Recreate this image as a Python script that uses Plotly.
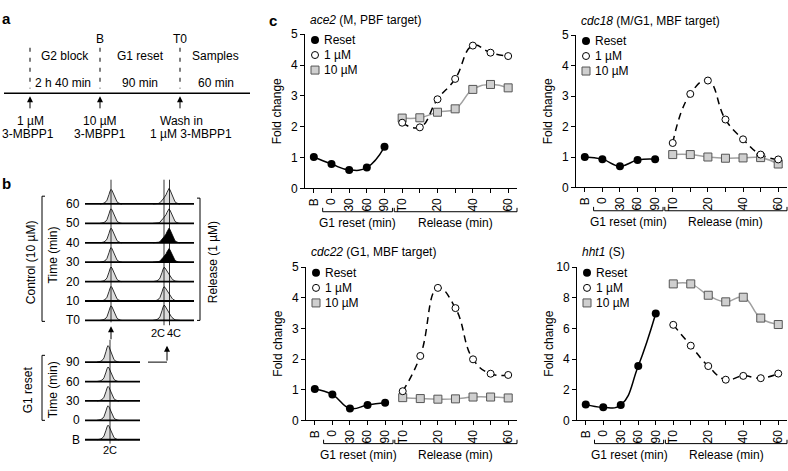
import numpy as np
import plotly.graph_objects as go

W, H = 788, 471
FONT = "Liberation Sans, Arial, Helvetica, sans-serif"

# ---------------- data (panel c) ----------------
X_CATEGORIES = ['B', '0', '30', '60', '90', 'T0', '10', '20', '30', '40', '50', '60']
X_TICKTEXT = ['B', '0', '30', '60', '90', 'T0', '', '20', '', '40', '', '60']
RESET_POS = [0, 1, 2, 3, 4]
RELEASE_POS = [5, 6, 7, 8, 9, 10, 11]

ACE2_RESET = [1.02, 0.79, 0.60, 0.68, 1.35]
ACE2_1UM = [2.13, 1.98, 2.89, 3.55, 4.63, 4.40, 4.29]
ACE2_10UM = [2.28, 2.29, 2.47, 2.58, 3.21, 3.37, 3.26]

CDC18_RESET = [1.00, 0.93, 0.70, 0.90, 0.93]
CDC18_1UM = [1.46, 3.07, 3.51, 2.23, 1.58, 1.08, 0.92]
CDC18_10UM = [1.08, 1.08, 1.00, 0.96, 0.97, 0.98, 0.77]

CDC22_RESET = [1.02, 0.84, 0.39, 0.50, 0.57]
CDC22_1UM = [0.95, 2.10, 4.32, 3.66, 1.99, 1.52, 1.48]
CDC22_10UM = [0.74, 0.71, 0.69, 0.70, 0.76, 0.76, 0.73]

HHT1_RESET = [1.04, 0.85, 1.00, 3.54, 6.97]
HHT1_1UM = [6.23, 4.87, 3.54, 2.65, 2.90, 2.75, 3.05]
HHT1_10UM = [8.90, 8.90, 8.16, 7.73, 8.03, 6.67, 6.25]

GENE_NAMES = ['ace2', 'cdc18', 'cdc22', 'hht1']
GENE_NOTES = ['(M, PBF target)', '(M/G1, MBF target)', '(G1, MBF target)', '(S)']
Y_MAX = [5, 5, 5, 10]
Y_DTICK = [1, 1, 1, 2]
LEGEND_LABELS = ['Reset', '1 µM', '10 µM']

# ---------------- data (panel b, flow cytometry) ----------------
CONTROL_TIMES = ['T0', '10', '20', '30', '40', '50', '60']
CONTROL_PEAK_H = [15, 15, 15, 15, 15, 15, 15]
RELEASE_2C_H = [15, 14, 14, 4, 4, 4, 4]
RELEASE_4C_H = [4, 4, 4, 13, 14, 14, 15]
RELEASE_DARK = [False, False, False, True, True, False, False]
G1_TIMES = ['B', '0', '30', '60', '90']
G1_PEAK_H = [15, 15, 15, 15, 17]
PROFILE_DX = list(range(-10, 11))
PROFILE_H = [0, 0.02, 0.04, 0.06, 0.1, 0.16, 0.26, 0.42, 0.65, 0.88, 1.0, 0.93, 0.76,
             0.55, 0.37, 0.24, 0.15, 0.09, 0.05, 0.02, 0]

fig = go.Figure()
layout = dict(width=W, height=H, autosize=False,
              margin=dict(l=0, r=0, t=0, b=0, pad=0),
              paper_bgcolor='white', plot_bgcolor='rgba(0,0,0,0)',
              showlegend=False, font=dict(family=FONT, size=12, color='black'))

# pixel geometry of the four charts: (x0, x1, ytop, ybottom)
GEOM = [(305, 517, 28, 187), (576, 787, 29, 186), (306, 517, 268, 426), (577, 787, 268, 426)]
SERIES = [(ACE2_RESET, ACE2_1UM, ACE2_10UM), (CDC18_RESET, CDC18_1UM, CDC18_10UM),
          (CDC22_RESET, CDC22_1UM, CDC22_10UM), (HHT1_RESET, HHT1_1UM, HHT1_10UM)]

annotations = []
shapes = []
OV = dict(xref='x5', yref='y5')


def txt(x, y, text, size=12, xanchor='center', yanchor='middle', angle=0, **kw):
    annotations.append(dict(x=x, y=y, text=text, showarrow=False, xanchor=xanchor,
                            yanchor=yanchor, textangle=angle,
                            font=dict(family=FONT, size=size, color='black'), **OV, **kw))


def line(x0, y0, x1, y1, width=1, color='black', dash=None):
    shapes.append(dict(type='line', x0=x0, y0=y0, x1=x1, y1=y1, **OV,
                       line=dict(color=color, width=width, dash=dash)))


def path(d, width=1):
    shapes.append(dict(type='path', path=d, **OV, line=dict(color='black', width=width)))


def arrow(x, yhead, xt, ytail):
    annotations.append(dict(x=x, y=yhead, ax=xt, ay=ytail, axref='x5', ayref='y5', **OV,
                            text='', showarrow=True, arrowhead=2, arrowsize=1.2,
                            arrowwidth=1, arrowcolor='black'))


for k in range(4):
    x0, x1, yt, yb = GEOM[k]
    sfx = '' if k == 0 else str(k + 1)
    xn, yn = 'x' + sfx, 'y' + sfx
    layout['xaxis' + sfx] = dict(domain=[x0 / W, x1 / W], range=[-0.5, 11.5], anchor=yn,
                                 tickmode='array', tickvals=list(range(12)), ticktext=X_TICKTEXT,
                                 tickangle=-90, ticks='outside', ticklen=4, tickcolor='black',
                                 showline=True, linecolor='black', linewidth=1, showgrid=False,
                                 zeroline=False, tickfont=dict(size=12), fixedrange=True)
    layout['yaxis' + sfx] = dict(domain=[1 - yb / H, 1 - yt / H], range=[0, Y_MAX[k]], anchor=xn,
                                 dtick=Y_DTICK[k], ticks='outside', ticklen=4, tickcolor='black',
                                 showline=True, linecolor='black', linewidth=1, showgrid=False,
                                 zeroline=False, tickfont=dict(size=12), fixedrange=True)
    reset, one, ten = SERIES[k]
    # fitted curves
    fig.add_trace(go.Scatter(x=RESET_POS, y=reset, mode='lines', xaxis=xn, yaxis=yn,
                             line=dict(color='black', width=1.5, shape='spline', smoothing=1.3)))
    fig.add_trace(go.Scatter(x=RELEASE_POS, y=ten, mode='lines', xaxis=xn, yaxis=yn,
                             line=dict(color='#a0a0a0', width=1.5, shape='spline', smoothing=1.3)))
    fig.add_trace(go.Scatter(x=RELEASE_POS, y=one, mode='lines', xaxis=xn, yaxis=yn,
                             line=dict(color='black', width=1.5, shape='spline', smoothing=1.3,
                                       dash='7px,5px')))
    # points
    fig.add_trace(go.Scatter(x=RESET_POS, y=reset, mode='markers', xaxis=xn, yaxis=yn,
                             name=LEGEND_LABELS[0], cliponaxis=False,
                             marker=dict(symbol='circle', size=8, color='black')))
    fig.add_trace(go.Scatter(x=RELEASE_POS, y=ten, mode='markers', xaxis=xn, yaxis=yn,
                             name=LEGEND_LABELS[2], cliponaxis=False,
                             marker=dict(symbol='square', size=8, color='#cfcfcf',
                                         line=dict(color='#555555', width=1))))
    fig.add_trace(go.Scatter(x=RELEASE_POS, y=one, mode='markers', xaxis=xn, yaxis=yn,
                             name=LEGEND_LABELS[1], cliponaxis=False,
                             marker=dict(symbol='circle', size=7, color='white',
                                         line=dict(color='black', width=1))))
    # title, y-title
    txt(x0 + 3, yt - 15, f'<i>{GENE_NAMES[k]}</i> {GENE_NOTES[k]}', xanchor='left')
    txt(x0 - 28, (yt + yb) / 2, 'Fold change', angle=-90)
    # brackets under the x axis
    step = (x1 - x0) / 12
    px = lambda i: x0 + (i + 0.5) * step
    by = yb + 24
    for a, b, lab in [(0.5, 4.45, 'G1 reset (min)'), (4.55, 11.5, 'Release (min)')]:
        path(f'M {px(a)},{by-4} L {px(a)},{by} L {px(b)},{by} L {px(b)},{by-4}')
        txt((px(a) + px(b)) / 2, by + 12, lab)
    # legend keys
    lx, ly = x0 + 10, yt + 6
    syms = [dict(symbol='circle', size=8, color='black'),
            dict(symbol='circle', size=7, color='white', line=dict(color='black', width=1)),
            dict(symbol='square', size=8, color='#cfcfcf', line=dict(color='#555555', width=1))]
    for j in range(3):
        fig.add_trace(go.Scatter(x=[lx], y=[ly + 15.5 * j], mode='markers', xaxis='x5', yaxis='y5',
                                 marker=syms[j], hoverinfo='skip'))
        txt(lx + 7, ly + 15.5 * j, LEGEND_LABELS[j], xanchor='left')

# overlay axis in pixel coordinates
layout['xaxis5'] = dict(domain=[0, 1], range=[0, W], visible=False, anchor='y5', fixedrange=True)
layout['yaxis5'] = dict(domain=[0, 1], range=[H, 0], visible=False, anchor='x5', fixedrange=True)

# ---------------- panel labels ----------------
txt(6, 12, '<b>a</b>', size=15)
txt(6, 182, '<b>b</b>', size=15)
txt(273, 14, '<b>c</b>', size=15)

# ---------------- panel a (schematic) ----------------
line(4, 89, 250, 89, width=1.5)
for xx in (30, 100, 180):
    line(xx, 42, xx, 84, dash='4px,6px')
    arrow(xx, 92, xx, 106)
txt(100, 33, 'B')
txt(180, 33, 'T0')
txt(65, 50, 'G2 block')
txt(140, 50, 'G1 reset')
txt(215, 50, 'Samples')
txt(63, 78, '2 h 40 min')
txt(140, 78, '90 min')
txt(216, 78, '60 min')
txt(30, 118, '1 µM')
txt(28, 131, '3-MBPP1')
txt(100, 118, '10 µM')
txt(100, 131, '3-MBPP1')
txt(181, 118, 'Wash in')
txt(191, 131, '1 µM 3-MBPP1')

# ---------------- panel b (histograms) ----------------
def prof(d):
    return PROFILE_H[d + 10] if -10 <= d <= 10 else 0.0


def peak(xs, ys, dark):
    fig.add_trace(go.Scatter(x=xs, y=ys, mode='lines', fill='toself', xaxis='x5', yaxis='y5',
                             fillcolor='black' if dark else '#dcdcdc',
                             line=dict(color='black', width=0.8), hoverinfo='skip'))


TOP_BASE = [323, 303, 283, 263, 243, 223, 203]
for r, lab in enumerate(CONTROL_TIMES):
    base = TOP_BASE[r]
    xs = list(range(100, 123))
    peak(xs, [base - CONTROL_PEAK_H[r] * prof(x - 111) for x in xs], False)
    xs = list(range(153, 181))
    peak(xs, [base - (RELEASE_2C_H[r] * prof(x - 164) + RELEASE_4C_H[r] * prof(x - 169)) for x in xs],
         RELEASE_DARK[r])
    line(85, base, 194, base, width=1.8)
    txt(82, base, lab, xanchor='right')

LOW_BASE = [446, 426, 406, 386, 366]
for r, lab in enumerate(G1_TIMES):
    base = LOW_BASE[r]
    xs = list(range(97, 120))
    peak(xs, [base - G1_PEAK_H[r] * prof(x - 108) for x in xs], False)
    line(85, base, 140, base, width=1.8)
    txt(82, base, lab, xanchor='right')

# guide lines for 2C/4C
line(111, 178, 111, 325, width=0.8)
line(164, 178, 164, 328, width=0.8)
line(169.5, 178, 169.5, 328, width=0.8)
line(110, 343, 110, 450, width=0.8)
txt(158, 336, '2C', size=11)
txt(174, 336, '4C', size=11)
txt(110, 457, '2C', size=11)
arrow(111, 329, 111, 344)
line(148, 366, 167, 366)
arrow(167, 349, 167, 366)

# brackets and side labels
path('M 45,195 L 42,195 L 42,324 L 45,324')
path('M 197,197 L 200,197 L 200,323 L 197,323')
path('M 45,359 L 42,359 L 42,426 L 45,426')
txt(31, 263, 'Control (10 µM)', angle=-90)
txt(53, 256, 'Time (min)', angle=-90)
txt(213, 263, 'Release (1 µM)', angle=-90)
txt(28, 395, 'G1 reset', angle=-90)
txt(53, 395, 'Time (min)', angle=-90)

layout['annotations'] = annotations
layout['shapes'] = shapes
fig.update_layout(**layout)
fig.write_html('out.html', config={'displayModeBar': False},
               post_script="document.body.style.margin='0';document.body.style.overflow='hidden';")
